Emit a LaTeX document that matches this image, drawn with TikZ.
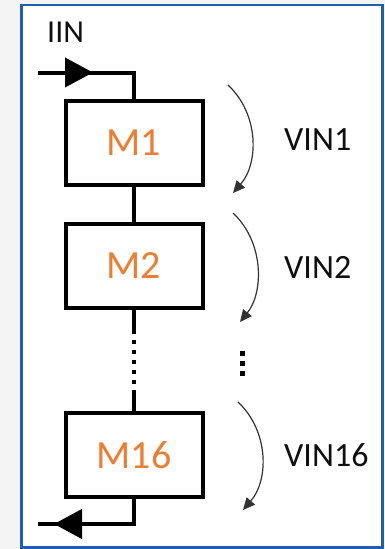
\documentclass[tikz,border=0pt]{standalone}
\usepackage{fontspec}
\setmainfont{Carlito}
\usetikzlibrary{arrows.meta,decorations.markings}
\definecolor{frameblue}{HTML}{1F5FAF}
\definecolor{morange}{HTML}{ED7D31}
\definecolor{pagegrey}{HTML}{F4F4F4}
\definecolor{txt}{HTML}{101010}
\definecolor{arcgrey}{HTML}{333333}
\tikzset{
  modbox/.style={draw=black,line width=4pt,fill=white,minimum width=137pt,minimum height=84pt,inner sep=0pt,
    font=\fontsize{40}{42}\selectfont,text=morange},
  wire/.style={line width=4pt,black},
  lbl/.style={inner sep=0pt,anchor=west,text=txt,font=\fontsize{34}{36}\selectfont},
  varrow/.style={line width=1.2pt,arcgrey,-{Triangle[length=12pt,width=11pt]}},
  bigtip/.style={decoration={markings,mark=at position #1 with {\arrow{Triangle[length=28pt,width=29pt]}}},postaction={decorate}}
}
\begin{document}
\begin{tikzpicture}[x=1pt,y=-1pt]
\useasboundingbox (0,0) rectangle (385,549);
\fill[pagegrey] (0,0) rectangle (385,549);
\draw[frameblue,line width=2.5pt,fill=white] (21.5,5) rectangle (382.5,547.5);

% modules
\node[modbox] (M1) at (134,143) {M1};
\node[modbox] (M2) at (134,265.5) {M2};
\node[modbox] (M16) at (134,455) {M16};

% input / output wires
\coordinate (inL) at (38,72.5);
\coordinate (inC) at (134,72.5);
\coordinate (outC) at (134,524);
\coordinate (outL) at (38,524);
\draw[wire,bigtip=55pt] (inL) -- (inC) -- (M1.north);
\draw[wire,bigtip=105pt] (M16.south) -- (outC) -- (outL);
\node[lbl,font=\fontsize{32}{34}\selectfont] (iin) at (47,32.5) {IIN};

% chain
\draw[wire] (M1.south) -- (M2.north);
\coordinate (d1) at (134,334);
\coordinate (d2) at (134,390);
\draw[wire] (M2.south) -- (d1);
\draw[wire,dash pattern=on 4pt off 6pt,dash phase=4pt] (d1) -- (d2);
\draw[wire] (d2) -- (M16.north);

% voltage arrows
\coordinate (a1s) at (228,85);
\coordinate (a1e) at (233,193);
\coordinate (a2s) at (233,213);
\coordinate (a2e) at (240,322);
\coordinate (a3s) at (238,402);
\coordinate (a3e) at (243,510);
\draw[varrow] (a1s) .. controls (259,114) and (259,163) .. (a1e);
\draw[varrow] (a2s) .. controls (264,242) and (264,292) .. (a2e);
\draw[varrow] (a3s) .. controls (269,431) and (269,480) .. (a3e);

\node[lbl] (v1) at (284,140) {VIN1};
\node[lbl] (v2) at (284,267) {VIN2};
\node[lbl] (v16) at (284,455) {VIN16};

% vertical ellipsis
\coordinate (e1) at (242,350.5);
\coordinate (e2) at (242,375.5);
\draw[black,line width=5pt,dash pattern=on 5pt off 5pt] (e1) -- (e2);
\end{tikzpicture}
\end{document}
